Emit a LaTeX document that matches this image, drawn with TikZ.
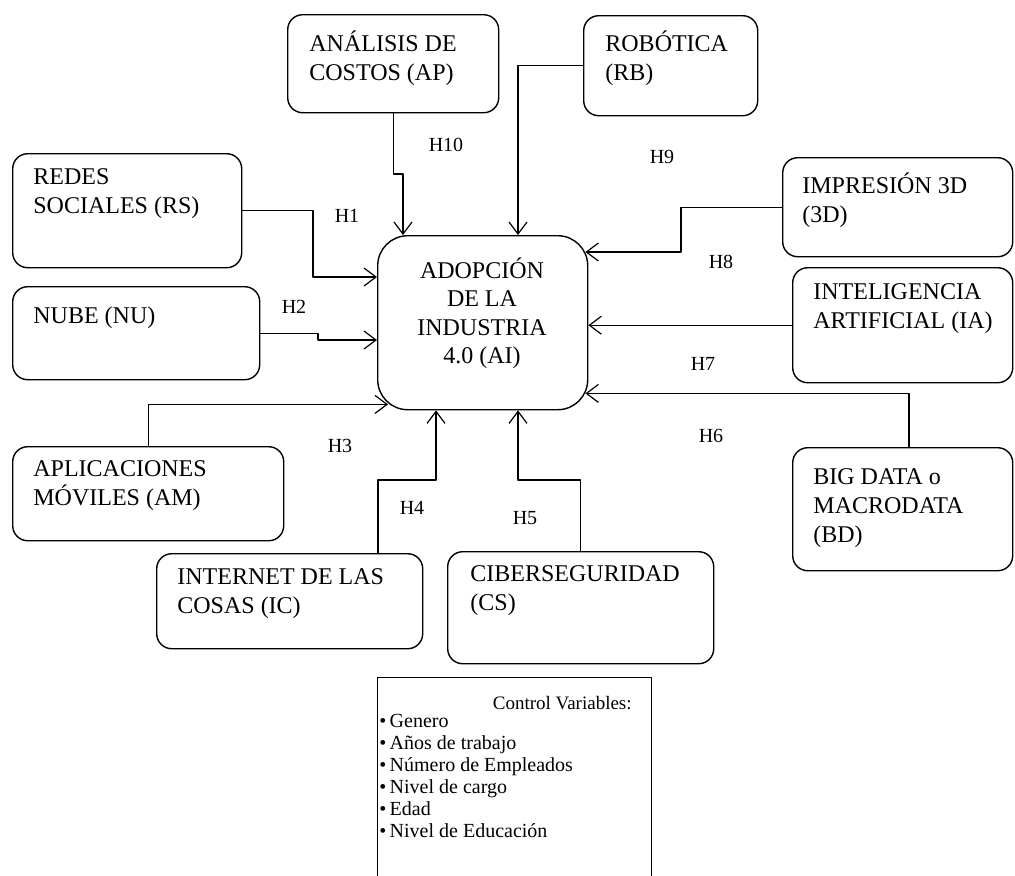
\documentclass[tikz,border=0pt]{standalone}
\usepackage{fontspec}
\setmainfont{Liberation Serif}
\usetikzlibrary{arrows.meta,calc}

\tikzset{
  varbox/.style={draw, rounded corners=7.5pt, line width=0.7pt, anchor=north west, inner sep=0pt},
  boxtext/.style={anchor=north west, inner sep=0pt, align=left,
    font=\fontsize{12}{14.5}\selectfont, execute at begin node=\strut},
  hyp/.style={inner sep=0pt, font=\fontsize{10}{12}\selectfont},
  link/.style={line width=0.6pt, -{Straight Barb[length=6pt,width=9pt]}},
}

\begin{document}
\begin{tikzpicture}[x=0.5pt, y=-0.5pt, line cap=round, line join=round]

% page in pixels of the scan, y pointing down
\useasboundingbox (0,0) rectangle (1015,875);

% central construct
\node[varbox, rounded corners=15pt, minimum width=105pt, minimum height=87pt] (ai) at (377,235) {};
\node[boxtext, anchor=north, align=center, font=\fontsize{12}{14.2}\selectfont] (aitext) at (482,257.5)
  {ADOPCIÓN\\DE LA\\INDUSTRIA\\4.0 (AI)};

% surrounding constructs
\node[varbox, minimum width=105.5pt, minimum height=49pt] (ap) at (287,14) {};
\node[boxtext] (aptext) at (309,30.5) {ANÁLISIS DE\\COSTOS (AP)};

\node[varbox, minimum width=87pt, minimum height=50pt] (rb) at (583,15) {};
\node[boxtext] (rbtext) at (605,30.5) {ROBÓTICA\\(RB)};

\node[varbox, minimum width=114.5pt, minimum height=57pt] (rs) at (12,153) {};
\node[boxtext] (rstext) at (33,168.5) {REDES\\SOCIALES (RS)};

\node[varbox, minimum width=123.5pt, minimum height=46.5pt] (nu) at (12,286) {};
\node[boxtext] (nutext) at (33,302.5) {NUBE (NU)};

\node[varbox, minimum width=115pt, minimum height=49.5pt] (imp) at (782,157) {};
\node[boxtext] (imptext) at (802,172.5) {IMPRESIÓN 3D\\(3D)};

\node[varbox, minimum width=110pt, minimum height=57.5pt] (ia) at (792,267) {};
\node[boxtext] (iatext) at (813,283.5) {INTELIGENCIA\\ARTIFICIAL (IA)};

\node[varbox, minimum width=110pt, minimum height=61.5pt] (bd) at (792,447) {};
\node[boxtext] (bdtext) at (813,468.5) {BIG DATA o\\MACRODATA\\(BD)};

\node[varbox, minimum width=135.5pt, minimum height=47pt] (am) at (12,446) {};
\node[boxtext] (amtext) at (33,460.5) {APLICACIONES\\MÓVILES (AM)};

\node[varbox, minimum width=133pt, minimum height=47.5pt] (ic) at (156,553) {};
\node[boxtext] (ictext) at (177,568.5) {INTERNET DE LAS\\COSAS (IC)};

\node[varbox, minimum width=133pt, minimum height=56pt] (cs) at (447,551) {};
\node[boxtext] (cstext) at (470,565.5) {CIBERSEGURIDAD\\(CS)};

% hypotheses
\draw[link] (rs.east) -| (313,277) -- (ai.west |- 0,277);
\draw[link] (nu.east) -- (nu.east -| 318,0) -- (318,340) -- (ai.west |- 0,340);
\draw[link] (am.north) |- ($(ai.south west)+(11,-6)$);
\draw[link] (ic.north -| 378,0) |- (436,480) -- (ai.south -| 436,0);
\draw[link] (cs.north) |- (518,480) -- (ai.south -| 518,0);
\draw[link] (bd.north -| 909,0) |- ($(ai.south east)+(-3,-17)$);
\draw[link] (ia.west) -- (ai.east |- ia.west);
\draw[link] (imp.west) -| (681,252) -- ($(ai.north east)+(-3,17)$);
\draw[link] (rb.west) -| (ai.north -| 518,0);
\draw[link] (ap.south) -- (ap.south |- 0,174) -- (403,174) -- (ai.north -| 403,0);

\node[hyp] (h1) at (347,216) {H1};
\node[hyp] (h2) at (294,307) {H2};
\node[hyp] (h3) at (340,446) {H3};
\node[hyp] (h4) at (412,508) {H4};
\node[hyp] (h5) at (525,518) {H5};
\node[hyp] (h6) at (711,436) {H6};
\node[hyp] (h7) at (703,364) {H7};
\node[hyp] (h8) at (721,262) {H8};
\node[hyp] (h9) at (662,157) {H9};
\node[hyp] (h10) at (446,145) {H10};

% control variables (box runs off the page bottom)
\node[draw, line width=0.7pt, anchor=north west, inner sep=0pt,
  minimum width=137pt, minimum height=120pt] (ctrl) at (377,677) {};
\node[inner sep=0pt, anchor=base east, font=\fontsize{9.5}{11}\selectfont] (ctrltitle) at (632,709)
  {Control Variables:};
\node[boxtext, font=\fontsize{10}{11}\selectfont] (ctrllist) at (379,714)
  {\textbullet\,Genero\\\textbullet\,Años de trabajo\\\textbullet\,Número de Empleados\\
   \textbullet\,Nivel de cargo\\\textbullet\,Edad\\\textbullet\,Nivel de Educación};

\end{tikzpicture}
\end{document}
